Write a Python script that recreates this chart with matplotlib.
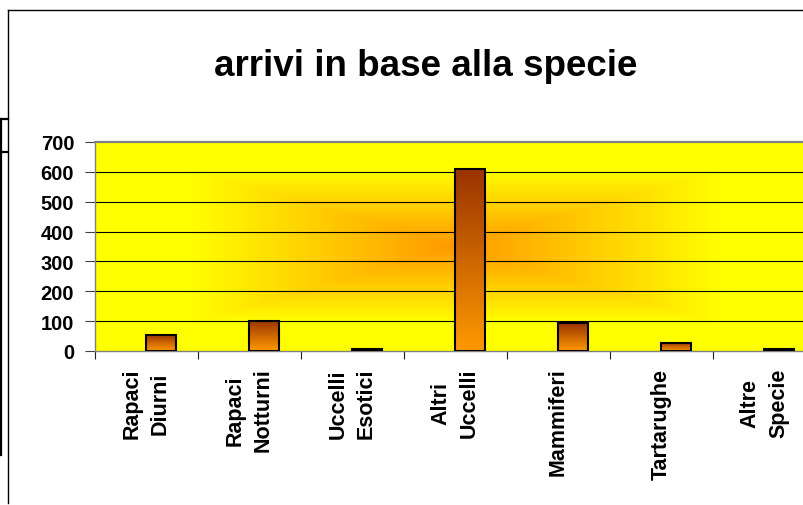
import numpy as np
import matplotlib
matplotlib.use("Agg")
import matplotlib.pyplot as plt
from matplotlib.lines import Line2D
from matplotlib.colors import to_rgb

categories = ["Rapaci\nDiurni", "Rapaci\nNotturni", "Uccelli\nEsotici", "Altri\nUccelli",
              "Mammiferi", "Tartarughe", "Altre\nSpecie"]
values = [55, 102, 7, 610, 93, 28, 7]
title = "arrivi in base alla specie"
yticks = [0, 100, 200, 300, 400, 500, 600, 700]

W, H = 804, 506
fig = plt.figure(figsize=(W / 100, H / 100), dpi=100)
fig.patch.set_facecolor("white")
FONT = "Liberation Sans"

def fx(px):
    return px / W

def fy(py):
    return 1 - py / H

# plot area: x 95..816 px, y 143..352 px
left, right, top, bottom = 95, 816, 143, 352
ax = fig.add_axes([fx(left), fy(bottom), (right - left) / W, (bottom - top) / H])

n = len(categories)
x = np.arange(n)
xmin, xmax = -0.5, n - 0.5

# background rectangular "from center" gradient
gw, gh = 721, 209
u = np.abs(np.linspace(-1, 1, gw))[None, :]
v = np.abs(np.linspace(-1, 1, gh))[:, None]
t = np.maximum(u, v)
s = np.clip(t / 0.74, 0, 1)
orange = np.array(to_rgb("#FF9900"))
yellow = np.array(to_rgb("#FFFF00"))
bg = orange[None, None, :] * (1 - s[..., None]) + yellow[None, None, :] * s[..., None]
ax.imshow(bg, extent=(xmin, xmax, 0, 700), aspect="auto", zorder=0, interpolation="bilinear")

# grid lines
for yv in yticks[1:-1]:
    ax.axhline(yv, color="black", lw=0.8, zorder=1)

# bars with vertical gradient
offset = 0.145
bw = 0.29
dark = np.array(to_rgb("#993300"))
grad = np.linspace(0, 1, 100)[:, None]
bar_img = dark[None, None, :] * (1 - grad[..., None]) + orange[None, None, :] * grad[..., None]
bars = ax.bar(x + offset, values, width=bw, facecolor="none", edgecolor="black",
              linewidth=1.5, zorder=3)
for xi, val in zip(x, values):
    ax.imshow(bar_img, extent=(xi + offset - bw / 2, xi + offset + bw / 2, 0, val),
              aspect="auto", zorder=2, interpolation="bilinear")

ax.set_xlim(xmin, xmax)
ax.set_ylim(0, 700)

# spines
for sp in ["top", "left", "bottom"]:
    ax.spines[sp].set_color("#808080")
    ax.spines[sp].set_linewidth(1.0)
ax.spines["top"].set_linewidth(1.6)
ax.spines["right"].set_visible(False)

ax.set_yticks(yticks)
ax.set_yticklabels([str(v) for v in yticks], fontsize=14.5, fontweight="bold", family=FONT)
ax.tick_params(axis="y", direction="out", length=7, width=0.8, color="#404040", pad=8)

ax.set_xticks(np.arange(n + 1) - 0.5, minor=False)
ax.set_xticklabels([])
ax.tick_params(axis="x", which="major", direction="out", length=6, width=0.8, color="#202020")
ax.set_xticks(x, minor=True)
ax.set_xticklabels(categories, minor=True, rotation=90, fontsize=15.5, fontweight="bold",
                   family=FONT, ha="center", va="top", multialignment="center", linespacing=1.45)
ax.tick_params(axis="x", which="minor", length=0, pad=12)

# title
fig.text(fx(425.5), fy(76), title, ha="center", va="baseline", fontsize=26.5,
         fontweight="bold", family=FONT)

# outer frame lines
fig.add_artist(Line2D([fx(8), fx(8)], [fy(11), fy(504)], color="black", lw=1.0, transform=fig.transFigure))
fig.add_artist(Line2D([fx(8), fx(805)], [fy(11), fy(11)], color="black", lw=1.0, transform=fig.transFigure))
# small box on the left
fig.add_artist(Line2D([fx(1), fx(1)], [fy(120), fy(456)], color="black", lw=1.6, transform=fig.transFigure))
fig.add_artist(Line2D([fx(0), fx(8)], [fy(120), fy(120)], color="black", lw=1.6, transform=fig.transFigure))
fig.add_artist(Line2D([fx(0), fx(8)], [fy(153), fy(153)], color="black", lw=1.6, transform=fig.transFigure))

fig.savefig("out.png", dpi=100)
